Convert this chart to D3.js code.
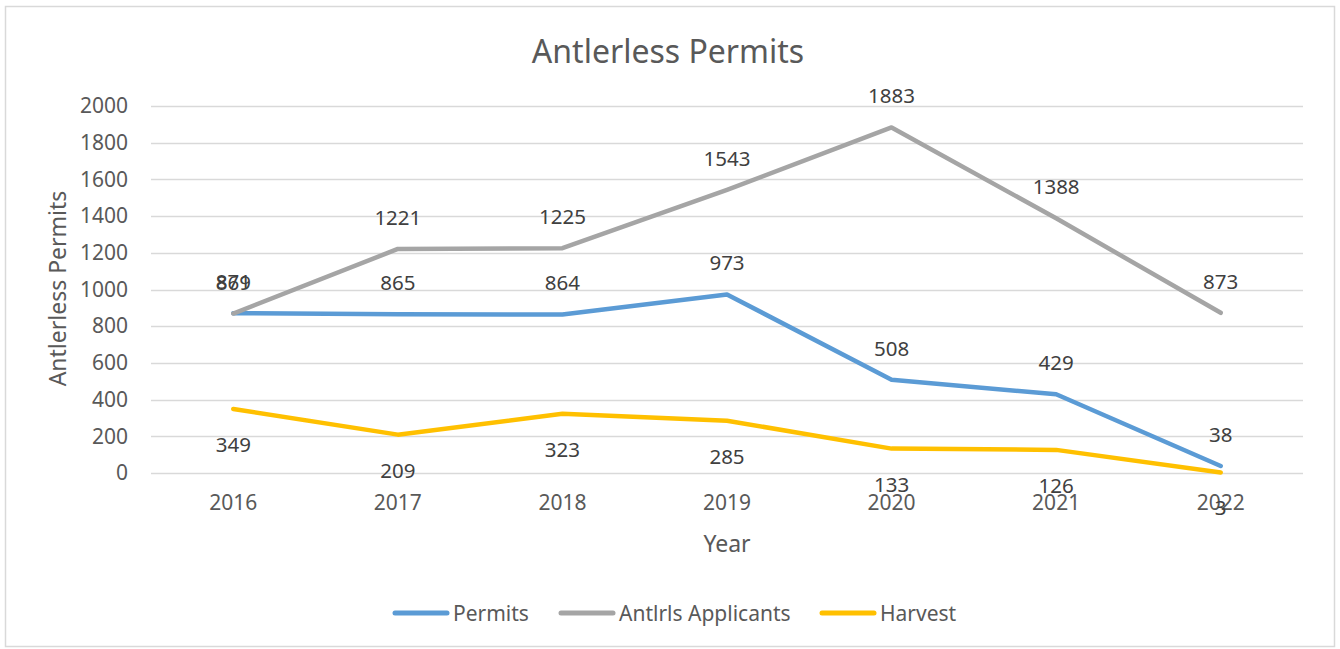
<!DOCTYPE html>
<html>
<head>
<meta charset="utf-8">
<script src="https://cdn.jsdelivr.net/npm/d3@7"></script>
<style>
  body { margin: 0; background: #fff; }
  #chart { width: 1340px; height: 649px; }
  text { font-family: "Noto Sans", "Open Sans", sans-serif; }
</style>
</head>
<body>
<div id="chart"></div>
<script>
const years = ["2016", "2017", "2018", "2019", "2020", "2021", "2022"];
const permits = [871, 865, 864, 973, 508, 429, 38];
const applicants = [869, 1221, 1225, 1543, 1883, 1388, 873];
const harvest = [349, 209, 323, 285, 133, 126, 3];
const yTicks = [0, 200, 400, 600, 800, 1000, 1200, 1400, 1600, 1800, 2000];

const series = [
  { name: "Permits", values: permits, color: "#5b9bd5", labelDy: -24 },
  { name: "Antlrls Applicants", values: applicants, color: "#a5a5a5", labelDy: -24 },
  { name: "Harvest", values: harvest, color: "#ffc000", labelDy: 43 }
];

const width = 1340;
const height = 649;
const marginLeft = 151;
const marginRight = 37;
const marginTop = 106;
const plotBottom = 473;
const chartWidth = width - marginLeft - marginRight;
const chartHeight = plotBottom - marginTop;

const svg = d3.select("#chart")
  .append("svg")
  .attr("width", width)
  .attr("height", height);

// outer border
svg.append("rect")
  .attr("x", 5.5).attr("y", 6.5)
  .attr("width", 1329).attr("height", 640)
  .attr("fill", "#fff")
  .attr("stroke", "#d9d9d9")
  .attr("stroke-width", 1.5);

const xScale = d3.scaleBand().domain(years).range([0, chartWidth]);
const yScale = d3.scaleLinear().domain([0, 2000]).range([chartHeight, 0]);
const xPos = (d) => xScale(d) + xScale.bandwidth() / 2;

const g = svg.append("g")
  .attr("transform", `translate(${marginLeft}, ${marginTop})`);

// gridlines
g.append("g")
  .selectAll("line")
  .data(yTicks)
  .join("line")
  .attr("x1", 0).attr("x2", chartWidth)
  .attr("y1", (d) => Math.round(yScale(d)) + 0.5)
  .attr("y2", (d) => Math.round(yScale(d)) + 0.5)
  .attr("stroke", "#d9d9d9")
  .attr("stroke-width", 1.3);

// y axis
const yAxis = d3.axisLeft(yScale)
  .tickValues(yTicks)
  .tickFormat(d3.format("d"))
  .tickSize(0)
  .tickPadding(23);
g.append("g")
  .call(yAxis)
  .call((a) => a.select(".domain").remove())
  .selectAll("text")
  .attr("fill", "#595959")
  .attr("font-size", 21);

// x axis
const xAxis = d3.axisBottom(xScale).tickSize(0).tickPadding(22);
g.append("g")
  .attr("transform", `translate(0, ${chartHeight})`)
  .call(xAxis)
  .call((a) => a.select(".domain").remove())
  .selectAll("text")
  .attr("fill", "#595959")
  .attr("font-size", 21);

// lines
const line = d3.line()
  .x((d, i) => xPos(years[i]))
  .y((d) => yScale(d));

g.append("g")
  .selectAll("path")
  .data(series)
  .join("path")
  .attr("d", (s) => line(s.values))
  .attr("fill", "none")
  .attr("stroke", (s) => s.color)
  .attr("stroke-width", 4.5)
  .attr("stroke-linecap", "round")
  .attr("stroke-linejoin", "round");

// data labels
series.forEach((s) => {
  g.append("g")
    .selectAll("text")
    .data(s.values)
    .join("text")
    .attr("x", (d, i) => xPos(years[i]))
    .attr("y", (d) => yScale(d) + s.labelDy)
    .attr("text-anchor", "middle")
    .attr("fill", "#404040")
    .attr("font-size", 20.5)
    .text((d) => d);
});

// titles
svg.append("text")
  .attr("x", 668).attr("y", 63)
  .attr("text-anchor", "middle")
  .attr("fill", "#595959")
  .attr("font-size", 32)
  .text("Antlerless Permits");

svg.append("text")
  .attr("x", marginLeft + chartWidth / 2).attr("y", 552)
  .attr("text-anchor", "middle")
  .attr("fill", "#595959")
  .attr("font-size", 23)
  .text("Year");

svg.append("text")
  .attr("transform", `translate(66, ${marginTop + chartHeight / 2 - 1}) rotate(-90)`)
  .attr("text-anchor", "middle")
  .attr("fill", "#595959")
  .attr("font-size", 23)
  .text("Antlerless Permits");

// legend
const legendX = [393, 559, 820];
const legend = svg.append("g")
  .selectAll("g")
  .data(series)
  .join("g")
  .attr("transform", (s, i) => `translate(${legendX[i]}, 613)`);

legend.append("line")
  .attr("x1", 2).attr("x2", 54)
  .attr("stroke", (s) => s.color)
  .attr("stroke-width", 5)
  .attr("stroke-linecap", "round");

legend.append("text")
  .attr("x", 60).attr("y", 7.5)
  .attr("fill", "#595959")
  .attr("font-size", 21)
  .text((s) => s.name);
</script>
</body>
</html>
